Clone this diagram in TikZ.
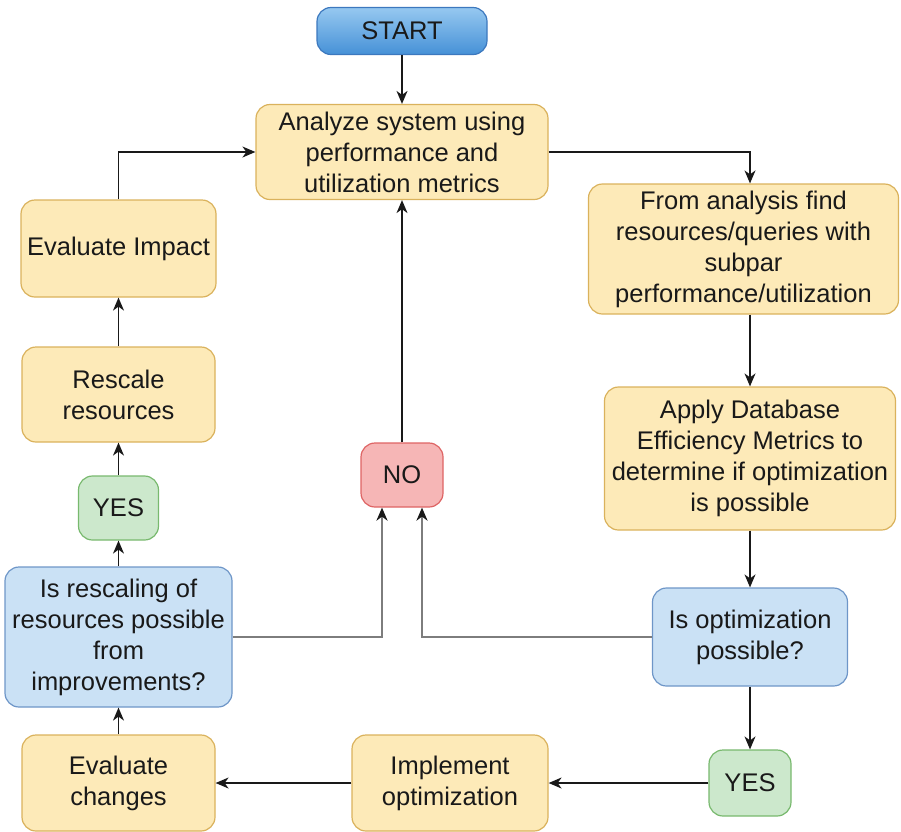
\documentclass[tikz,border=0pt]{standalone}
\usepackage{fontspec}
\setmainfont{Liberation Sans}
\usetikzlibrary{arrows.meta,positioning,calc}
\definecolor{yfill}{RGB}{253,234,184}
\definecolor{ydraw}{RGB}{218,178,92}
\definecolor{bfill}{RGB}{202,225,245}
\definecolor{bdraw}{RGB}{110,150,200}
\definecolor{gfill}{RGB}{204,232,204}
\definecolor{gdraw}{RGB}{120,185,110}
\definecolor{rfill}{RGB}{246,182,182}
\definecolor{rdraw}{RGB}{222,100,100}
\definecolor{stop}{RGB}{150,200,240}
\definecolor{sbot}{RGB}{70,145,215}
\definecolor{sdraw}{RGB}{60,120,190}
\definecolor{greyline}{RGB}{125,125,125}
\tikzset{
  box/.style={rounded corners=14pt, line width=1.2pt, align=center, inner sep=0pt,
    font=\fontsize{25.5}{31}\selectfont, text=black!90},
  ybox/.style={box, fill=yfill, draw=ydraw},
  bbox/.style={box, fill=bfill, draw=bdraw},
  gbox/.style={box, fill=gfill, draw=gdraw},
  rbox/.style={box, fill=rfill, draw=rdraw},
  sbox/.style={box, top color=stop, bottom color=sbot, draw=sdraw},
  conn/.style={line width=1.5pt, black!90, -{Stealth[length=13pt,width=11pt,inset=4pt]}},
  gconn/.style={line width=2.4pt, greyline, -{Stealth[length=13pt,width=11pt,inset=4pt,color=black!90]}}
}
\begin{document}
\begin{tikzpicture}[x=1pt,y=-1pt]
\useasboundingbox (0,0) rectangle (901,831);
\node[sbox, minimum width=170, minimum height=47] (start) at (402,31) {START};
\node[ybox, minimum width=292, minimum height=95] (analyze) at (402,152)
  {Analyze system using\\performance and\\utilization metrics};
\node[ybox, minimum width=310, minimum height=130] (find) at (743.5,249)
  {From analysis find\\resources/queries with\\subpar\\performance/utilization};
\node[ybox, minimum width=291, minimum height=143] (apply) at (750,458.5)
  {Apply Database\\Efficiency Metrics to\\determine if optimization\\is possible};
\node[bbox, minimum width=195, minimum height=98] (isopt) at (750,637)
  {Is optimization\\possible?};
\node[gbox, minimum width=82, minimum height=66] (yesR) at (750,783) {YES};
\node[ybox, minimum width=196, minimum height=96] (impl) at (450,783)
  {Implement\\optimization};
\node[ybox, minimum width=193, minimum height=96] (evch) at (118.5,783)
  {Evaluate\\changes};
\node[bbox, minimum width=227, minimum height=140] (isres) at (118.5,637)
  {Is rescaling of\\resources possible\\from\\improvements?};
\node[gbox, minimum width=80, minimum height=64] (yesL) at (118.5,508) {YES};
\node[ybox, minimum width=193, minimum height=95] (rescale) at (118.5,394.5)
  {Rescale\\resources};
\node[ybox, minimum width=195, minimum height=97] (evimp) at (118.5,248.5)
  {Evaluate Impact};
\node[rbox, minimum width=82, minimum height=64] (no) at (402,475) {NO};

\coordinate (findin) at ([xshift=6.5]find.north);
\coordinate (findout) at ([xshift=6.5]find.south);
\coordinate (noL) at ([xshift=-20]no.south);
\coordinate (noR) at ([xshift=20]no.south);

\draw[conn] (start) -- (analyze);
\draw[conn] (analyze.east) -| (findin);
\draw[conn] (findout) -- (apply.north);
\draw[conn] (apply) -- (isopt);
\draw[conn] (isopt) -- (yesR);
\draw[conn] (yesR) -- (impl);
\draw[conn] (impl) -- (evch);
\draw[conn] (evch) -- (isres);
\draw[conn] (isres) -- (yesL);
\draw[conn] (yesL) -- (rescale);
\draw[conn] (rescale) -- (evimp);
\draw[conn] (evimp.north) |- (analyze.west);
\draw[conn] (no) -- (analyze);
\draw[gconn] (isres.east) -| (noL);
\draw[gconn] (isopt.west) -| (noR);
\end{tikzpicture}
\end{document}
